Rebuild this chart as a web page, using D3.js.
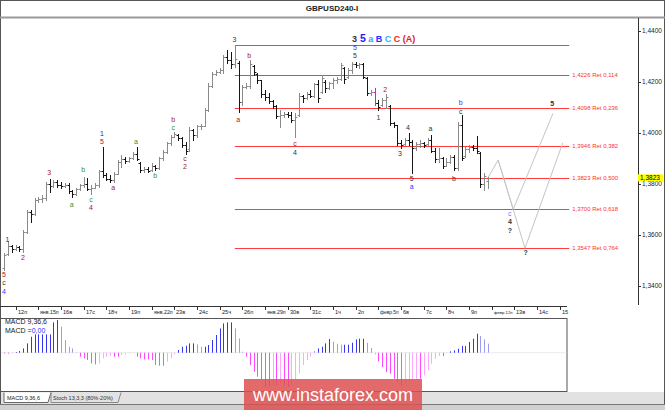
<!DOCTYPE html>
<html><head><meta charset="utf-8">
<script src="https://cdn.jsdelivr.net/npm/d3@7"></script>
<style>
body{margin:0;background:#fff;}
svg{display:block;font-family:"Liberation Sans",Arial,sans-serif;}
</style></head><body>
<svg id="c" width="665" height="410"></svg>
<script>
// ---------------- DATA ----------------
const title = "GBPUSD240-I";
const dayLabels = ["12п","янв.15п","16в","17с","18ч","19п","янв.22п","23в","24с","25ч","26п","янв.29п","30в","31с","1ч","2п","февр.5п","6в","7с","8ч","9п","февр.12п","13в","14с","15"];
const barsPerDay = 6;
const priceTicks = [1.34, 1.36, 1.38, 1.40, 1.42, 1.44];
const firstBar = -3;          // bar index of first bar (0 = Jan 12, 00:00)
const magentaBar = 95;
// [open, high, low, close]
const ohlc = [
[1.3470,1.3528,1.3461,1.3520],[1.3525,1.3575,1.3522,1.3555],[1.3555,1.3560,1.3532,1.3545],
[1.3545,1.3560,1.3540,1.3552],[1.3552,1.3555,1.3535,1.3545],[1.3545,1.3619,1.3532,1.3610],
[1.3610,1.3697,1.3605,1.3690],[1.3690,1.3697,1.3650,1.3680],[1.3682,1.3744,1.3678,1.3735],
[1.3735,1.3748,1.3728,1.3740],[1.3740,1.3756,1.3728,1.3745],[1.3745,1.3807,1.3736,1.3800],
[1.3800,1.3818,1.3767,1.3790],[1.3790,1.3815,1.3787,1.3805],[1.3805,1.3815,1.3787,1.3795],
[1.3795,1.3807,1.3783,1.3790],[1.3790,1.3803,1.3787,1.3795],[1.3795,1.3803,1.3764,1.3770],
[1.3770,1.3775,1.3748,1.3760],[1.3760,1.3783,1.3756,1.3778],[1.3778,1.3799,1.3775,1.3795],
[1.3795,1.3826,1.3787,1.3800],[1.3800,1.3822,1.3775,1.3780],[1.3780,1.3795,1.3760,1.3785],
[1.3785,1.3803,1.3783,1.3795],[1.3795,1.3854,1.3787,1.3850],[1.3850,1.3944,1.3826,1.3835],
[1.3835,1.3842,1.3815,1.3820],[1.3820,1.3834,1.3807,1.3815],[1.3815,1.3846,1.3807,1.3840],
[1.3840,1.3893,1.3838,1.3885],[1.3885,1.3913,1.3866,1.3895],[1.3895,1.3905,1.3881,1.3890],
[1.3890,1.3905,1.3885,1.3900],[1.3900,1.3924,1.3898,1.3915],[1.3915,1.3944,1.3893,1.3895],
[1.3880,1.3885,1.3846,1.3855],[1.3855,1.3866,1.3846,1.3858],[1.3858,1.3866,1.3846,1.3850],
[1.3852,1.3881,1.3850,1.3870],[1.3870,1.3873,1.3854,1.3860],[1.3860,1.3905,1.3858,1.3900],
[1.3900,1.3932,1.3893,1.3925],[1.3925,1.3964,1.3920,1.3958],[1.3958,1.3991,1.3952,1.3985],
[1.3985,1.4003,1.3983,1.3995],[1.3990,1.3993,1.3971,1.3980],[1.3980,1.3983,1.3944,1.3950],
[1.3950,1.3964,1.3917,1.3930],[1.3935,1.4022,1.3930,1.4010],[1.4010,1.4015,1.3971,1.3990],
[1.3990,1.4030,1.3985,1.4025],[1.4025,1.4034,1.4015,1.4028],[1.4028,1.4097,1.4025,1.4090],
[1.4090,1.4195,1.4085,1.4185],[1.4185,1.4238,1.4179,1.4230],[1.4230,1.4246,1.4226,1.4238],
[1.4238,1.4254,1.4234,1.4245],[1.4245,1.4305,1.4234,1.4295],[1.4295,1.4324,1.4273,1.4285],
[1.4285,1.4316,1.4254,1.4270],[1.4270,1.4344,1.4258,1.4290],[1.4275,1.4280,1.4081,1.4120],
[1.4120,1.4187,1.4109,1.4180],[1.4180,1.4195,1.4175,1.4185],[1.4185,1.4285,1.4175,1.4270],
[1.4262,1.4265,1.4226,1.4240],[1.4232,1.4234,1.4195,1.4205],[1.4205,1.4207,1.4140,1.4150],
[1.4150,1.4167,1.4128,1.4140],[1.4140,1.4156,1.4116,1.4125],[1.4125,1.4128,1.4097,1.4105],
[1.4105,1.4109,1.4058,1.4065],[1.4065,1.4089,1.4022,1.4070],[1.4070,1.4081,1.4062,1.4075],
[1.4075,1.4081,1.4062,1.4068],[1.4068,1.4081,1.4042,1.4050],[1.4050,1.4077,1.3983,1.4060],
[1.4070,1.4156,1.4065,1.4145],[1.4145,1.4148,1.4120,1.4135],[1.4135,1.4160,1.4132,1.4150],
[1.4150,1.4167,1.4140,1.4145],[1.4145,1.4195,1.4140,1.4190],[1.4190,1.4207,1.4120,1.4135],
[1.4160,1.4226,1.4156,1.4215],[1.4200,1.4207,1.4160,1.4175],[1.4175,1.4200,1.4172,1.4195],
[1.4195,1.4215,1.4175,1.4205],[1.4205,1.4218,1.4195,1.4210],[1.4210,1.4273,1.4207,1.4265],
[1.4255,1.4258,1.4195,1.4210],[1.4220,1.4254,1.4215,1.4245],[1.4245,1.4277,1.4234,1.4270],
[1.4270,1.4277,1.4258,1.4265],[1.4265,1.4273,1.4254,1.4268],[1.4268,1.4273,1.4215,1.4220],
[1.4215,1.4218,1.4148,1.4155],[1.4155,1.4167,1.4148,1.4160],[1.4160,1.4175,1.4109,1.4115],
[1.4115,1.4128,1.4089,1.4100],[1.4110,1.4136,1.4105,1.4130],[1.4130,1.4152,1.4097,1.4140],
[1.4105,1.4109,1.4030,1.4040],[1.4040,1.4042,1.4022,1.4030],[1.4030,1.4032,1.3952,1.3960],
[1.3960,1.3971,1.3940,1.3950],[1.3955,1.3979,1.3952,1.3970],[1.3970,1.3999,1.3952,1.3965],
[1.3965,1.3971,1.3842,1.3940],[1.3940,1.3964,1.3932,1.3955],[1.3955,1.3971,1.3944,1.3960],
[1.3960,1.3964,1.3944,1.3950],[1.3955,1.3979,1.3952,1.3970],[1.3970,1.3991,1.3924,1.3930],
[1.3930,1.3940,1.3885,1.3895],[1.3895,1.3940,1.3885,1.3900],[1.3900,1.3905,1.3862,1.3870],
[1.3870,1.3901,1.3868,1.3885],[1.3885,1.3913,1.3881,1.3905],[1.3905,1.3913,1.3854,1.3860],
[1.3860,1.4042,1.3854,1.4030],[1.4030,1.4069,1.3893,1.3900],[1.3910,1.3944,1.3905,1.3935],
[1.3935,1.3952,1.3924,1.3945],[1.3945,1.3952,1.3932,1.3940],[1.3940,1.3987,1.3920,1.3930],
[1.3920,1.3924,1.3787,1.3800],[1.3800,1.3842,1.3775,1.3830],[1.3810,1.3826,1.3783,1.3823]
];
// MACD histogram, in units of 0.0001, same bar indices as ohlc
const macdHist = [
-1,-1,-0.5,0.7,1.7,4.3,9.3,16,18.3,18.3,18.3,18.3,18.3,30.3,32.7,26,12.7,6,4.3,0.3,
-4,-5.7,-7.3,-10.7,-11.7,-10.7,-5.7,-4,-3,-4,-4,-2.3,-1.7,-0.7,-0.3,-4,-5.7,-6.7,-6.7,-7.3,
-12.3,-13,-13,-9,-5.7,-1.7,2.7,6,7,9.3,9.3,8.3,6,6,7.7,12.7,17.7,24.3,29.3,30.3,
30.3,24.3,14.3,1,-4,-12.3,-19,-24,-27.3,-34,-34,-32.3,-32.3,-30.7,-32.3,-34,-32.3,-27.3,-20.7,-12.3,
-7.3,-4,1.7,4.3,6,9.3,13.7,11,9,8,8,8,10,13.3,14,14,10,4.7,-2,-8.7,
-14.3,-19.3,-21,-26,-29,-33,-31,-29,-27.7,-26,-26,-22.7,-17.7,-11,-6,-3.3,-3.3,-0.3,1.3,2.3,
4,6.7,6.7,10.7,14,19,16.7,13.3,9
];
const fibLevels = [1.4344, 1.4226, 1.4098, 1.3946, 1.3823, 1.3700, 1.3547];
const fibRatios = ["", "0,114", "0,236", "0,382", "0,500", "0,618", "0,764"];
const fibStartBar = 58, fibEndBar = 146.5;
const lastPrice = 1.3823;
const projectionA = [[125,1.3823],[127.7,1.3893],[131.7,1.3700],[142.2,1.4075]];
const projectionB = [[127.7,1.3893],[134.8,1.3547],[144.8,1.3960]];
// wave labels: [bar index, price, text, colour key, bold]
const waveLabels = [
[-3.1,1.3442,"5","r"],[-3.1,1.3411,"c","k"],[-3.1,1.3379,"4","b"],
[-2.2,1.3583,"1","k"],[1.9,1.3512,"2","r"],[8.9,1.3845,"3","r"],
[14.8,1.3720,"a","g"],[17.9,1.3854,"b","g"],[19.9,1.3738,"c","g"],[19.9,1.3706,"4","r"],
[22.8,1.3996,"1","k"],[22.8,1.3964,"5","r"],[25.8,1.3787,"a","r"],
[31.8,1.3964,"a","g"],[36.9,1.3834,"b","g"],
[41.7,1.4052,"b","r"],[41.7,1.4020,"c","g"],[44.8,1.3900,"c","r"],[44.8,1.3868,"2","r"],
[57.9,1.4366,"3","k"],[58.9,1.4053,"a","r"],[61.8,1.4301,"b","r"],
[73.9,1.3956,"c","r"],[73.9,1.3924,"4","k"],
[89.8,1.4334,"5","b"],[89.8,1.4302,"5","k"],
[96,1.4060,"1","k"],[97.8,1.4170,"2","r"],[101.7,1.3919,"3","k"],[103.8,1.4020,"4","k"],
[104.8,1.3822,"5","k"],[104.8,1.3790,"a","b"],[109.8,1.4016,"a","k"],
[116,1.3821,"b","k"],[117.8,1.4117,"b","b"],[117.8,1.4085,"c","k"],
[142,1.4115,"5","k",1],[130.8,1.3682,"c","lb"],[130.8,1.3650,"4","k",1],[130.8,1.3618,"?","k",1],
[135,1.3531,"?","k",1]
];
const topLabel = [["3","#333",9],["5","#2020ff",10.5],["a","#30a0ff",9],["B","#2030ff",9],["C","#30b0ff",9],["C","#ff2020",9],["(A)","#e02020",9]];
const topLabelBar = 89.8, topLabelPrice = 1.4366;

// ---------------- DRAWING ----------------
const colors = {k:"#333", r:"#a0201c", g:"#2f8f3a", b:"#3535ff", lb:"#7a7aff"};
const svg = d3.select("#c");
const fmt = v => d3.format(".4f")(v).replace(".", ",");

svg.append("rect").attr("x",0.5).attr("y",0.5).attr("width",664).attr("height",409)
  .attr("fill","#fff").attr("stroke","#555");
svg.append("text").attr("x",332).attr("y",11).attr("text-anchor","middle")
  .attr("font-size",8).attr("font-weight","bold").attr("fill","#222").text(title);
svg.append("line").attr("x1",0).attr("x2",665).attr("y1",17.5).attr("y2",17.5)
  .attr("stroke","#999").attr("stroke-width",2);

const x = d3.scaleLinear().domain([0, 144]).range([15.7, 15.7 + 144*3.778]);
const y = d3.scaleLinear().domain([1.34, 1.44]).range([285.7, 30.7]);
const cr = v => Math.round(v) + 0.5;

// fib lines
const gF = svg.append("g");
fibLevels.forEach((p,i)=>{
  gF.append("line").attr("x1",x(fibStartBar)).attr("x2",x(fibEndBar))
    .attr("y1",cr(y(p))).attr("y2",cr(y(p))).attr("stroke","#ff3b3b").attr("stroke-width",1.2);
  if (fibRatios[i]) gF.append("text").attr("x",x(fibEndBar)+3).attr("y",y(p)+2)
    .attr("font-size",6).attr("fill","#ff3030").text(fmt(p)+" Ret "+fibRatios[i]);
});

// projection lines
const line = d3.line().x(d=>x(d[0])).y(d=>y(d[1]));
[projectionA, projectionB].forEach(pr=>{
  svg.append("path").attr("d",line(pr)).attr("fill","none").attr("stroke","#c4c4c4").attr("stroke-width",1);
});

// bars
const gB = svg.append("g").attr("fill","none").attr("stroke-width",1);
ohlc.forEach((d,i)=>{
  const k = firstBar + i;
  const cx = cr(x(k));
  const [o,h,l,c] = d;
  const col = k===magentaBar ? "#ff00ff" : (c>=o ? "#8a8a8a" : "#151515");
  gB.append("path").attr("stroke",col)
    .attr("d",`M${cx},${Math.round(y(h))}V${Math.round(y(l))+1}M${cx-2},${cr(y(o))}H${cx}M${cx},${cr(y(c))}H${cx+2}`);
});

// wave labels
const gW = svg.append("g").attr("text-anchor","middle");
waveLabels.forEach(([k,p,t,ck,b])=>{
  gW.append("text").attr("x",x(k)).attr("y",y(p)+2.5).attr("font-size",7)
    .attr("font-weight",b?"bold":"normal").attr("fill",colors[ck]).text(t);
});
const tl = svg.append("text").attr("x",x(topLabelBar)-3).attr("y",y(topLabelPrice)+3)
  .attr("font-weight","bold");
topLabel.forEach(([t,c,s],i)=>{
  tl.append("tspan").attr("fill",c).attr("font-size",s).text((i?" ":"")+t);
});

// price axis
svg.append("line").attr("x1",638.5).attr("x2",638.5).attr("y1",18).attr("y2",305).attr("stroke","#333");
const gY = svg.append("g");
priceTicks.forEach(p=>{
  gY.append("line").attr("x1",638).attr("x2",641).attr("y1",cr(y(p))).attr("y2",cr(y(p))).attr("stroke","#333");
  gY.append("text").attr("x",642).attr("y",y(p)+2.5).attr("font-size",6.5).attr("fill","#222").text(fmt(p));
});
svg.append("rect").attr("x",638).attr("y",y(lastPrice)-3.5).attr("width",25).attr("height",7).attr("fill","#ffff00");
svg.append("text").attr("x",640).attr("y",y(lastPrice)+2.5).attr("font-size",6.5).attr("fill","#000").text(fmt(lastPrice));

// date axis
svg.append("line").attr("x1",0).attr("x2",567).attr("y1",306.5).attr("y2",306.5).attr("stroke","#333");
const gX = svg.append("g");
const dayGap = x(barsPerDay) - x(0);
const baseFs = 5.6;
dayLabels.forEach((t,d)=>{
  const tx = cr(x(d*barsPerDay));
  gX.append("line").attr("x1",tx).attr("x2",tx).attr("y1",306).attr("y2",310).attr("stroke","#333");
  const lbl = gX.append("text").attr("x",tx+1.5).attr("y",314).attr("font-size",baseFs).attr("fill","#222").text(t);
  const w = lbl.node().getComputedTextLength();
  const room = dayGap - 4;
  if (w > room) lbl.attr("font-size", baseFs * room / w);
});

// MACD panel
svg.append("rect").attr("x",0.5).attr("y",318.5).attr("width",566.5).attr("height",73)
  .attr("fill","#fff").attr("stroke","#555");
const m = d3.scaleLinear().domain([-38.3, 34.7]).range([391, 318]);
svg.append("line").attr("x1",1).attr("x2",567).attr("y1",m(0)).attr("y2",m(0))
  .attr("stroke","#ddd").attr("stroke-width",0.6);
const gM = svg.append("g");
macdHist.forEach((v,i)=>{
  const k = firstBar + i;
  const prev = i ? macdHist[i-1] : 0;
  const grow = Math.abs(v) >= Math.abs(prev);
  const col = v >= 0 ? (grow ? "#3434f2" : "#9c9cf2") : (grow ? "#ff48ff" : "#ffa6ff");
  const cx = cr(x(k));
  gM.append("line").attr("x1",cx).attr("x2",cx).attr("y1",m(0)).attr("y2",m(v))
    .attr("stroke",col).attr("stroke-width",1);
});
svg.append("text").attr("x",5).attr("y",324).attr("font-size",7).attr("fill","#222").text("MACD 9,36,6");
const mt = svg.append("text").attr("x",5).attr("y",333).attr("font-size",7).attr("fill","#222");
mt.append("tspan").text("MACD =");
mt.append("tspan").attr("fill","#3030ff").text("0,00");

// tab bar
svg.append("rect").attr("x",1).attr("y",392).attr("width",663).attr("height",12).attr("fill","#e2e2e2");
svg.append("path").attr("d","M4,392.5V402.5H48L51,392.5").attr("fill","#fff").attr("stroke","#666");
svg.append("path").attr("d","M51,392.5L51,402.5H118L121,392.5").attr("fill","none").attr("stroke","#888");
svg.append("text").attr("x",7).attr("y",400).attr("font-size",5.5).attr("fill","#222").text("MACD 9,36,6");
svg.append("text").attr("x",53).attr("y",400).attr("font-size",5.5).attr("fill","#333").text("Stoch 13,3,3 (80%-20%)");
svg.append("line").attr("x1",0).attr("x2",665).attr("y1",404.5).attr("y2",404.5).attr("stroke","#777");
svg.append("rect").attr("x",0).attr("y",405).attr("width",665).attr("height",5).attr("fill","#d0d0d0");

// watermark
svg.append("rect").attr("x",244).attr("y",379).attr("width",178).attr("height",31)
  .attr("fill","rgb(222,80,80)").attr("fill-opacity",0.85);
svg.append("text").attr("x",333).attr("y",401).attr("text-anchor","middle").attr("font-size",18)
  .attr("fill","#fff").text("www.instaforex.com");
</script>
</body></html>
